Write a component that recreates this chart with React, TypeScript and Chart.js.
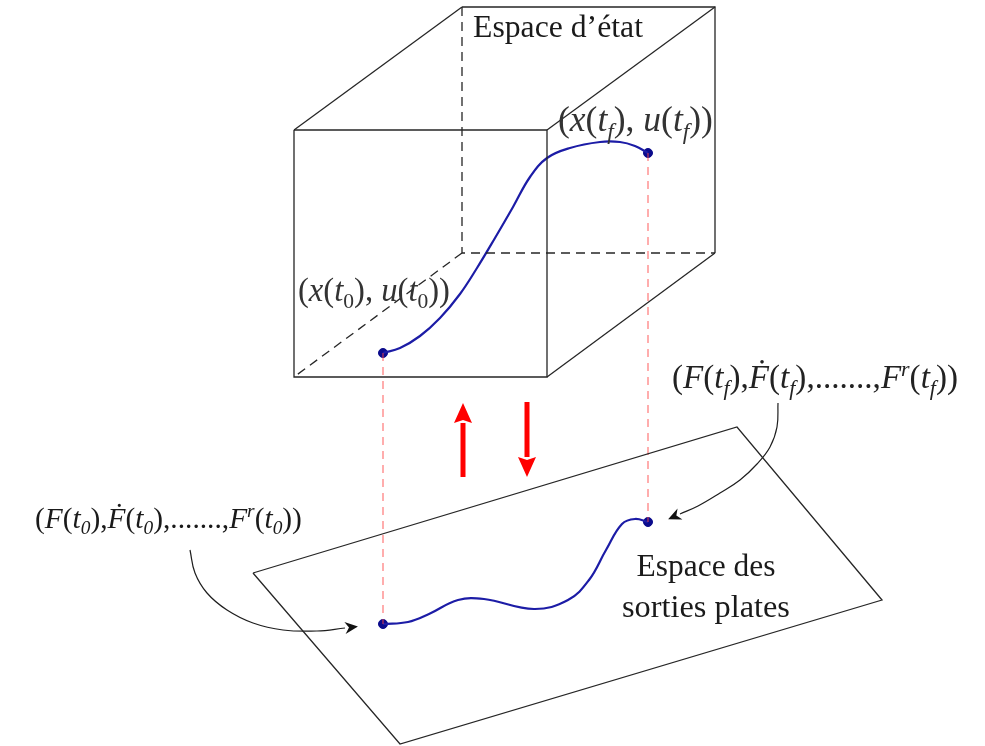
import React, { useEffect, useRef } from "react";
import { Chart, registerables } from "chart.js";

Chart.register(...registerables);

type P = [number, number];
type Seg = [string, string];

// ---- diagram geometry (drawing units = page pixels) ----
const cubeFront: P[] = [[294, 130], [547, 130], [547, 377], [294, 377], [294, 130]];
const cubeBack: P[] = [[462, 7], [715, 7], [715, 253]];
const cubeEdges: P[][] = [
  [[294, 130], [462, 7]],
  [[547, 130], [715, 7]],
  [[547, 377], [715, 253]],
];
const cubeHidden: P[][] = [
  [[462, 7], [462, 253], [715, 253]],
  [[462, 253], [294, 377]],
];
const outputPlane: P[] = [[253, 573], [737, 427], [882, 600], [400, 744], [253, 573]];

const stateTrajectory: P[] = [
  [383, 353], [400, 348], [420, 336], [440, 318], [460, 294], [477, 268],
  [495, 238], [513, 207], [530, 177], [547, 158], [570, 148], [600, 142],
  [620, 142], [635, 146], [648, 153],
];
const flatTrajectory: P[] = [
  [383, 624], [408, 622], [429, 614], [458, 600], [484, 599], [534, 609],
  [568, 600], [589, 580], [606, 550], [622, 524], [635, 519], [648, 522],
];
const endpoints: P[] = [[383, 353], [648, 153], [383, 624], [648, 522]];
const projections: P[][] = [
  [[383, 353], [383, 624]],
  [[648, 153], [648, 522]],
];
const liftArrow: P[] = [[463, 477], [463, 423]];
const projectArrow: P[] = [[527, 402], [527, 457]];
const leftCallout: P[] = [
  [190, 550], [195, 573], [207, 593], [227, 610], [253, 623], [283, 630],
  [317, 631], [345, 628],
];
const rightCallout: P[] = [
  [778, 403], [777, 427], [770, 447], [757, 464], [740, 480], [720, 493],
  [698, 506], [680, 514],
];

// ---- texts ----
const titleState: Seg[] = [["Espace d\u2019\u00e9tat", ""]];
const titleFlat1: Seg[] = [["Espace des", ""]];
const titleFlat2: Seg[] = [["sorties plates", ""]];
const stateEndLabel: Seg[] = [
  ["(", ""], ["x", "i"], ["(", ""], ["t", "i"], ["f", "ib"], ["), ", ""],
  ["u", "i"], ["(", ""], ["t", "i"], ["f", "ib"], ["))", ""],
];
const stateStartLabel: Seg[] = [
  ["(", ""], ["x", "i"], ["(", ""], ["t", "i"], ["0", "b"], ["), ", ""],
  ["u", "i"], ["(", ""], ["t", "i"], ["0", "b"], ["))", ""],
];
const flatEndLabel: Seg[] = [
  ["(", ""], ["F", "i"], ["(", ""], ["t", "i"], ["f", "ib"], ["),", ""],
  ["\u1E1E", "i"], ["(", ""], ["t", "i"], ["f", "ib"], ["),.......,", ""],
  ["F", "i"], ["r", "ip"], ["(", ""], ["t", "i"], ["f", "ib"], ["))", ""],
];
const flatStartLabel: Seg[] = [
  ["(", ""], ["F", "i"], ["(", ""], ["t", "i"], ["0", "ib"], ["),", ""],
  ["\u1E1E", "i"], ["(", ""], ["t", "i"], ["0", "ib"], ["),.......,", ""],
  ["F", "i"], ["r", "ip"], ["(", ""], ["t", "i"], ["0", "ib"], ["))", ""],
];

const FONT = '"Liberation Serif", "DejaVu Serif", serif';

const diagramLabels = [
  { segs: titleState, x: 473, y: 37, w: 170, align: "left", color: "#1a1a1a" },
  { segs: stateEndLabel, x: 558, y: 131, w: 155, align: "left", color: "#333" },
  { segs: stateStartLabel, x: 298, y: 301, w: 152, align: "left", color: "#333" },
  { segs: flatEndLabel, x: 672, y: 388, w: 286, align: "left", color: "#222" },
  { segs: flatStartLabel, x: 35, y: 528, w: 267, align: "left", color: "#1a1a1a" },
  { segs: titleFlat1, x: 706, y: 576, w: 139, align: "center", color: "#1a1a1a" },
  { segs: titleFlat2, x: 706, y: 617, w: 168, align: "center", color: "#1a1a1a" },
];

function segFont(flags: string, size: number) {
  const small = flags.includes("b") || flags.includes("p");
  const s = small ? size * 0.66 : size;
  return `${flags.includes("i") ? "italic " : ""}${s}px ${FONT}`;
}

function drawRich(ctx: CanvasRenderingContext2D, segs: Seg[], x: number, y: number, target: number, align: string, color: string) {
  const base = 40;
  let total = 0;
  for (const [t, f] of segs) {
    ctx.font = segFont(f, base);
    total += ctx.measureText(t).width;
  }
  const size = (base * target) / total;
  let cx = align === "center" ? x - target / 2 : x;
  ctx.fillStyle = color;
  ctx.textBaseline = "alphabetic";
  ctx.textAlign = "left";
  for (const [t, f] of segs) {
    ctx.font = segFont(f, size);
    const dy = f.includes("b") ? size * 0.22 : f.includes("p") ? -size * 0.36 : 0;
    ctx.fillText(t, cx, y + dy);
    cx += ctx.measureText(t).width;
  }
}

const textPlugin = {
  id: "diagramText",
  afterDatasetsDraw(chart: any) {
    const ctx = chart.ctx as CanvasRenderingContext2D;
    const xs = chart.scales.x;
    const ys = chart.scales.y;
    ctx.save();
    for (const lab of diagramLabels) {
      const px = xs.getPixelForValue(lab.x);
      const py = ys.getPixelForValue(lab.y);
      const pw = xs.getPixelForValue(lab.x + lab.w) - px;
      drawRich(ctx, lab.segs, px, py, pw, lab.align, lab.color);
    }
    ctx.restore();
  },
};

const arrowPlugin = {
  id: "arrowHeads",
  afterDatasetsDraw(chart: any) {
    const ctx = chart.ctx as CanvasRenderingContext2D;
    chart.data.datasets.forEach((ds: any, i: number) => {
      if (!ds.arrow) return;
      const pts = chart.getDatasetMeta(i).data;
      const last = pts[pts.length - 1];
      const prev = pts[pts.length - 2];
      let dx = last.x - prev.x;
      let dy = last.y - prev.y;
      const len = Math.hypot(dx, dy) || 1;
      dx /= len;
      dy /= len;
      const { length, half, notch, color } = ds.arrow;
      const tipX = last.x + dx * length;
      const tipY = last.y + dy * length;
      const nx = -dy;
      const ny = dx;
      ctx.save();
      ctx.fillStyle = color;
      ctx.beginPath();
      ctx.moveTo(tipX, tipY);
      ctx.lineTo(last.x + nx * half, last.y + ny * half);
      ctx.lineTo(last.x + dx * notch, last.y + dy * notch);
      ctx.lineTo(last.x - nx * half, last.y - ny * half);
      ctx.closePath();
      ctx.fill();
      ctx.restore();
    });
  },
};

function line(points: P[], opts: any = {}) {
  return {
    data: points.map(([x, y]) => ({ x, y })),
    showLine: true,
    pointRadius: 0,
    pointHoverRadius: 0,
    borderColor: opts.color ?? "#262626",
    borderWidth: opts.width ?? 1.3,
    borderDash: opts.dash ?? [],
    tension: opts.tension ?? 0,
    fill: false,
    clip: false,
    arrow: opts.arrow,
  };
}

export default function App() {
  const ref = useRef<HTMLCanvasElement>(null);
  useEffect(() => {
    document.body.style.margin = "0";
    document.body.style.overflow = "hidden";
    const datasets: any[] = [
      line(cubeFront),
      line(cubeBack),
      ...cubeEdges.map((e) => line(e)),
      ...cubeHidden.map((e) => line(e, { dash: [9, 6] })),
      line(outputPlane),
      ...projections.map((e) => line(e, { color: "rgba(255,70,70,0.8)", width: 1.1, dash: [8, 6] })),
      line(stateTrajectory, { color: "#1c1ca6", width: 2.2, tension: 0.4 }),
      line(flatTrajectory, { color: "#1c1ca6", width: 2.2, tension: 0.4 }),
      line(liftArrow, { color: "#ff0000", width: 5, arrow: { length: 20, half: 9, notch: 3, color: "#ff0000" } }),
      line(projectArrow, { color: "#ff0000", width: 5, arrow: { length: 20, half: 9, notch: 3, color: "#ff0000" } }),
      line(leftCallout, { color: "#1e1e1e", width: 1.2, tension: 0.4, arrow: { length: 13, half: 6, notch: 4, color: "#111" } }),
      line(rightCallout, { color: "#1e1e1e", width: 1.2, tension: 0.4, arrow: { length: 13, half: 6, notch: 4, color: "#111" } }),
      {
        data: endpoints.map(([x, y]) => ({ x, y })),
        showLine: false,
        pointRadius: 4.5,
        pointHoverRadius: 4.5,
        pointBackgroundColor: "#0b0b8c",
        pointBorderColor: "#0b0b8c",
        clip: false,
      },
    ];
    const chart = new Chart(ref.current!, {
      type: "scatter",
      data: { datasets },
      options: {
        animation: false,
        responsive: true,
        maintainAspectRatio: false,
        layout: { padding: 0, autoPadding: false },
        events: [],
        plugins: { legend: { display: false }, tooltip: { enabled: false } },
        scales: {
          x: { type: "linear", min: 0, max: 985, display: false },
          y: { type: "linear", min: 0, max: 746, reverse: true, display: false },
        },
      },
      plugins: [arrowPlugin, textPlugin],
    } as any);
    return () => chart.destroy();
  }, []);
  return (
    <div style={{ width: 985, height: 746, position: "relative", background: "#fff" }}>
      <canvas ref={ref} />
    </div>
  );
}
